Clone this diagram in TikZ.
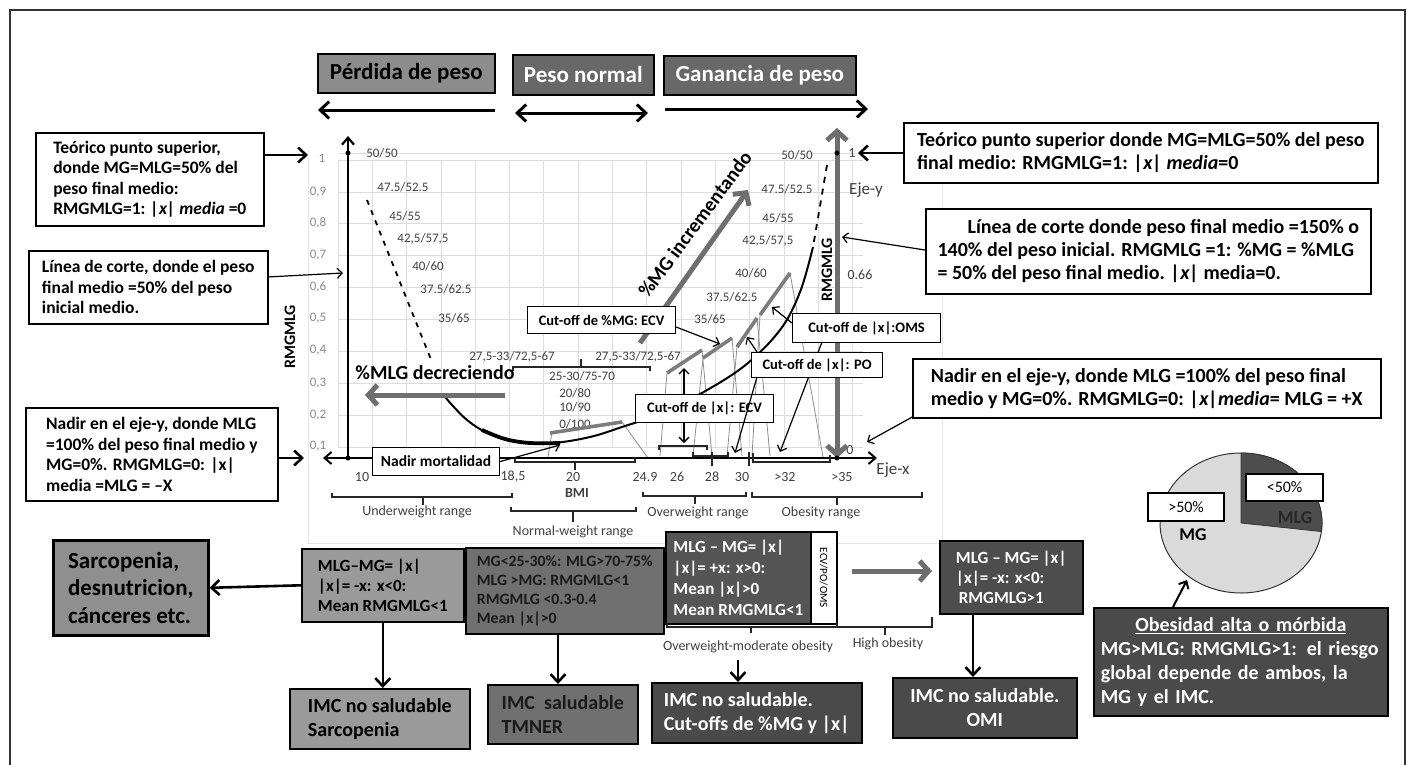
\documentclass[tikz,border=0pt]{standalone}
\usepackage{fontspec}
\setmainfont{Carlito}
\usetikzlibrary{arrows.meta}
\newcommand\myfs[2]{\fontsize{#1}{#2}\selectfont}
\definecolor{gridc}{HTML}{DCDCDC}
\definecolor{labc}{HTML}{404040}
\definecolor{tickc}{HTML}{8A8A8A}
\definecolor{arrg}{HTML}{6E6E6E}
\definecolor{sawg}{HTML}{7C7C7C}
\definecolor{thing}{HTML}{8E8E8E}
\definecolor{fA}{HTML}{8C8C8C}
\definecolor{fB}{HTML}{686868}
\definecolor{fC}{HTML}{9A9A9A}
\definecolor{fD}{HTML}{8F8F8F}
\definecolor{fE}{HTML}{707070}
\definecolor{fF}{HTML}{555555}
\definecolor{fG}{HTML}{4A4A4A}
\definecolor{pieL}{HTML}{DADADA}
\definecolor{pieD}{HTML}{4D4D4D}
\definecolor{frm}{HTML}{333333}
\definecolor{chb}{HTML}{E4E4E4}
\definecolor{txd}{HTML}{1A1A1A}
\tikzset{
  bx/.style={draw=black, line width=1.6pt, anchor=north west, inner xsep=6pt, inner ysep=1pt, align=left},
  lfont/.style={font=\myfs{17.5}{20.5}\bfseries},
  rfont/.style={font=\myfs{20}{23}\bfseries},
  cbox/.style={draw=black, line width=1.1pt, fill=white, anchor=north west, inner sep=1pt, align=center, font=\myfs{14.5}{16}\bfseries},
  topbox/.style={draw=black, line width=1.6pt, anchor=north west, inner sep=1pt, align=center, font=\myfs{23}{25}\bfseries},
  toparr/.style={line width=3pt, -{Straight Barb[length=9pt,width=17pt]}},
  topdbl/.style={line width=3pt, {Straight Barb[length=9pt,width=17pt]}-{Straight Barb[length=9pt,width=17pt]}},
  thickarr/.style={line width=2.6pt, -{Straight Barb[length=8pt,width=15pt]}},
  thinarr/.style={line width=1.2pt, -{Straight Barb[length=5pt,width=10pt]}},
  thindbl/.style={line width=1.4pt, {Straight Barb[length=5pt,width=10pt]}-{Straight Barb[length=5pt,width=10pt]}},
  garr/.style={line width=5pt, draw=arrg, -{Straight Barb[length=9pt,width=20pt]}},
  gdbl/.style={line width=5pt, draw=arrg, {Straight Barb[length=9pt,width=20pt]}-{Straight Barb[length=9pt,width=20pt]}},
  lab/.style={font=\myfs{13}{13}, text=labc, inner sep=0pt},
  tck/.style={font=\myfs{13}{13}, text=tickc, inner sep=0pt},
  xlab/.style={font=\myfs{14}{14}, text=labc, inner sep=0pt},
  rng/.style={font=\myfs{14}{14}, text=labc, inner sep=0pt},
  brk/.style={line width=1.1pt, draw=black!85},
  saw/.style={line width=3.6pt, draw=sawg},
  sawthin/.style={line width=0.8pt, draw=thing},
  dot/.style={circle, fill=black, inner sep=0pt, minimum size=5pt},
}
\begin{document}
\begin{tikzpicture}[x=1pt,y=-1pt]
\useasboundingbox (0,0) rectangle (1414,764);
% outer frame
\draw[line width=2pt, frm] (10,770) -- (10,10) -- (1405,10) -- (1405,770);
% chart border
\draw[chb, line width=0.8pt] (308,150) -- (308,543) -- (942,543) -- (942,150);
% grid
\foreach \i in {0,...,15} \draw[gridc, line width=0.8pt] ({338+34.3*\i},160) -- ({338+34.3*\i},447);
\foreach \j in {0,...,9} \draw[gridc, line width=0.8pt] (338,{160+31.9*\j}) -- (863,{160+31.9*\j});
\draw[gridc, line width=0.8pt] (338,153) -- (863,153);

% y tick labels
\node[tck] at (322,158) {1};
\node[tck] at (318,192) {0,9};
\node[tck] at (318,223) {0,8};
\node[tck] at (318,255) {0,7};
\node[tck] at (318,287) {0,6};
\node[tck] at (318,318) {0,5};
\node[tck] at (318,350) {0,4};
\node[tck] at (318,383) {0,3};
\node[tck] at (318,415) {0,2};
\node[tck] at (318,446) {0,1};

% ratio labels left
\node[lab] at (382,153) {50/50};
\node[lab] at (403,187) {47.5/52.5};
\node[lab] at (405,216) {45/55};
\node[lab] at (423,239) {42,5/57,5};
\node[lab] at (428,266) {40/60};
\node[lab] at (446,289) {37.5/62.5};
\node[lab] at (454,318) {35/65};
\node[lab] at (512,357) {27,5-33/72,5-67};
\node[lab] at (638,357) {27,5-33/72,5-67};
\node[lab] at (582,376) {25-30/75-70};
\node[lab] at (575,393) {20/80};
\node[lab] at (575,407) {10/90};
\node[lab] at (575,424) {0/100};
% ratio labels right
\node[lab] at (797,155) {50/50};
\node[lab] at (787,189) {47.5/52.5};
\node[lab] at (778,218) {45/55};
\node[lab] at (768,241) {42,5/57,5};
\node[lab] at (751,273) {40/60};
\node[lab] at (732,297) {37.5/62.5};
\node[lab] at (710,319) {35/65};
\node[xlab] at (860,275) {0.66};
\node[xlab] at (852,153) {1};
\node[font=\myfs{17}{17}, text=labc, inner sep=0pt] at (866,190) {Eje-y};
\node[xlab] at (850,450) {0};
\node[font=\myfs{17}{17}, text=labc, inner sep=0pt] at (893,470) {Eje-x};

% bracket above normal range
\draw[brk] (513,371) -- (513,367) -- (650,367) -- (650,371);
\draw[brk] (581,367) -- (581,359);

% dashed cut-off lines
\draw[line width=1.8pt, dash pattern=on 5pt off 6pt] (367,200) -- (432,362);
\draw[line width=1.8pt, dash pattern=on 6pt off 6pt] (827,165) -- (813,247);

% saw-tooth cut-off lines
\draw[sawthin] (552,432) -- (548,457);
\draw[sawthin] (622,422) -- (648,458);
\draw[sawthin] (660,456) -- (667,373);
\draw[sawthin] (702,350) -- (712,456);
\draw[sawthin] (693,456) -- (703,358);
\draw[sawthin] (732,338) -- (742,456);
\draw[sawthin] (727,456) -- (737,347);
\draw[sawthin] (757,318) -- (770,456);
\draw[sawthin] (752,456) -- (760,315);
\draw[sawthin] (790,273) -- (823,457);
\draw[saw] (550,433) -- (622,422);
\draw[saw] (667,373) -- (702,350);
\draw[saw] (703,358) -- (732,338);
\draw[saw] (737,347) -- (757,318);
\draw[saw] (760,315) -- (790,273);

% black curve
\draw[line width=2pt] plot[smooth, tension=0.6] coordinates {(445,397) (467,420) (492,435) (522,442) (553,443) (590,437) (622,427) (660,414) (693,398) (743,367) (780,330) (800,292) (813,247)};
\draw[line width=3.8pt] plot[smooth, tension=0.6] coordinates {(482,430) (505,439) (530,443) (560,443)};

% left axis
\coordinate (yb) at (348,458);
\coordinate (yt) at (348,136);
\draw[line width=2.2pt, -{Straight Barb[length=7pt,width=12pt]}] (yb) -- (yt);
% x axis
\coordinate (xl) at (323,458);
\coordinate (xr) at (877,458);
\draw[line width=2pt, {Straight Barb[length=7pt,width=12pt]}-{Straight Barb[length=7pt,width=12pt]}] (xl) -- (xr);
% right gray axis
\coordinate (gb) at (837,458);
\coordinate (gt) at (837,128);
\draw[gdbl] (gb) -- (gt);
\node[dot] at (348,153) {};
\node[dot] at (348,458) {};
\node[dot] at (837,153) {};
\node[dot] at (837,458) {};

% axis ticks and brackets near x-axis
\draw[brk] (659,450) -- (659,446) -- (707,446) -- (707,450);
\draw[brk] (693,452) -- (693,456) -- (728,456) -- (728,452);
\draw[brk] (753,453) -- (753,462) -- (830,462) -- (830,455);
\draw[brk] (712,452) -- (712,466);
\draw[brk] (749,452) -- (749,466);
\draw[brk] (515,457) -- (515,462) -- (635,462) -- (635,457);
\draw[brk] (575,462) -- (575,470);

% x labels
\node[xlab] at (362,477) {10};
\node[xlab] at (513,477) {18,5};
\node[xlab] at (573,477) {20};
\node[xlab] at (645,477) {24.9};
\node[xlab] at (677,477) {26};
\node[xlab] at (712,477) {28};
\node[xlab] at (742,477) {30};
\node[xlab] at (785,477) {>32};
\node[xlab] at (842,477) {>35};
\node[font=\myfs{14}{14}\bfseries, text=labc, inner sep=0pt] at (577,493) {BMI};

% axis titles
\node[rotate=90, font=\myfs{16}{16}\bfseries, inner sep=0pt] at (290,337) {RMGMLG};
\node[rotate=90, font=\myfs{16}{16}\bfseries, inner sep=0pt] at (827,270) {RMGMLG};

% big gray arrows and texts
\node[font=\myfs{20}{20}\bfseries, inner sep=0pt] at (435,373) {\%MLG decreciendo};
\coordinate (dA) at (505,395);
\coordinate (dB) at (365,395);
\draw[garr] (dA) -- (dB);
\node[rotate=53.5, font=\myfs{20}{20}\bfseries, inner sep=0pt] at (695,224) {\%MG incrementando};
\coordinate (iA) at (640,343);
\coordinate (iB) at (748,190);
\draw[garr] (iA) -- (iB);

% thin arrows in chart (drawn before boxes)
\coordinate (cA) at (684,368);
\coordinate (cB) at (684,443);
\draw[thindbl] (cA) -- (cB);
\node[cbox, minimum width=148pt, minimum height=27pt] (C1) at (527,306) {Cut-off de \%MG: ECV};
\node[cbox, minimum width=138pt, minimum height=28pt] (C2) at (635,394) {Cut-off de |x|: ECV};
\coordinate (c3a) at (822,342);
\coordinate (c3b) at (780,452);
\draw[thinarr] (c3a) -- (c3b);
\node[cbox, minimum width=148pt, minimum height=29pt] (C3) at (792,313) {Cut-off de |x|:OMS};
\node[cbox, minimum width=131pt, minimum height=25pt] (C4) at (751,352) {Cut-off de |x|: PO};
\coordinate (c1e) at (720,344);
\draw[thinarr] (C1.east |- 0,327) -- (c1e);
\coordinate (c3e) at (772,307);
\draw[thinarr] (C3.west |- 0,323) -- (c3e);
\coordinate (c4e) at (735,453);
\draw[thinarr] (757,377) -- (c4e);
\coordinate (c4u) at (747,337);
\draw[thinarr] (C4.north west) ++(6,0) -- (c4u);

\node[cbox, font=\myfs{15.5}{16}\bfseries, minimum width=127pt, minimum height=28pt] (NM) at (372,447) {Nadir mortalidad};
\coordinate (nme) at (560,445);
\draw[thinarr] (NM.east) -- (nme);

% top boxes
\node[topbox, fill=fA, minimum width=177pt, minimum height=39pt] (P1) at (317,53) {Pérdida de peso};
\node[topbox, fill=fB, text=white, minimum width=141pt, minimum height=40pt] (P2) at (512,54) {Peso normal};
\node[topbox, fill=fB, text=white, minimum width=192pt, minimum height=39pt] (P3) at (663,55) {Ganancia de peso};
\coordinate (t1a) at (495,110); \coordinate (t1b) at (318,110);
\draw[toparr] (t1a) -- (t1b);
\coordinate (t2a) at (515,113); \coordinate (t2b) at (648,113);
\draw[topdbl] (t2a) -- (t2b);
\coordinate (t3a) at (665,109); \coordinate (t3b) at (868,109);
\draw[toparr] (t3a) -- (t3b);

% left annotation boxes
\node[bx, lfont, fill=white, minimum width=228pt, minimum height=93pt] (L1) at (35,132)
 {Teórico punto superior,\\ donde MG=MLG=50\% del\\ peso final medio:\\ RMGMLG=1: \textit{|x| media} =0};
\coordinate (l1e) at (308,155);
\draw[thickarr] (L1.east |- l1e) -- (l1e);
\node[bx, lfont, fill=white, minimum width=239pt, minimum height=73pt] (L2) at (28,250)
 {Línea de corte, donde el peso\\ final medio =50\% del peso\\ inicial medio.};
\coordinate (l2e) at (343,273);
\draw[thinarr] (267,277) -- (l2e);
\node[bx, lfont, fill=white, minimum width=252pt, minimum height=93pt] (L3) at (25,407)
 {Nadir en el eje-y, donde MLG\\ =100\% del peso final medio y\\ MG=0\%. RMGMLG=0: |x|\\ media =MLG = –X};
\coordinate (l3e) at (304,458);
\draw[thickarr] (L3.east |- l3e) -- (l3e);

% right annotation boxes
\node[bx, rfont, fill=white, minimum width=474pt, minimum height=60pt] (R1) at (903,122)
 {Teórico punto superior donde MG=MLG=50\% del peso\\ final medio: RMGMLG=1: \textit{|x| media}=0};
\coordinate (r1e) at (858,153);
\draw[thickarr] (R1.west |- r1e) -- (r1e);
\node[bx, rfont, fill=white, minimum width=445pt, minimum height=85pt] (R2) at (925,208)
 {\hspace*{30pt}Línea de corte donde peso final medio =150\% o\\ 140\% del peso inicial. RMGMLG =1: \%MG = \%MLG\\ = 50\% del peso final medio. \textit{|x|} media=0.};
\coordinate (r2e) at (842,237);
\draw[thinarr] (R2.west |- 0,250) -- (r2e);
\node[bx, rfont, fill=white, minimum width=468pt, minimum height=59pt] (R3) at (912,358)
 {Nadir en el eje-y, donde MLG =100\% del peso final\\ medio y MG=0\%. RMGMLG=0: \textit{|x|media}= MLG = +X};
\coordinate (r3e) at (867,442);
\draw[thinarr] (R3.south west) ++(1,-2) -- (r3e);

% range brackets
\draw[brk] (332,493) -- (332,497) -- (512,497) -- (512,493);
\draw[brk] (423,497) -- (423,505);
\node[rng] at (417,512) {Underweight range};
\draw[brk] (511,507) -- (511,511) -- (636,511) -- (636,507);
\draw[brk] (573,511) -- (573,522);
\node[rng] at (573,532) {Normal-weight range};
\draw[brk] (643,492) -- (643,496) -- (746,496) -- (746,492);
\draw[brk] (695,496) -- (695,504);
\node[rng] at (698,513) {Overweight range};
\draw[brk] (752,492) -- (752,497) -- (922,497) -- (922,492);
\draw[brk] (837,497) -- (837,505);
\node[rng] at (821,513) {Obesity range};

% bottom boxes
\node[bx, draw=black, line width=2.6pt, fill=fD, font=\myfs{23}{27.5}\bfseries, minimum width=155pt, minimum height=95pt] (B1) at (52,539)
 {Sarcopenia,\\ desnutricion,\\ cánceres etc.};
\node[bx, fill=fC, font=\myfs{17}{20}\bfseries, minimum width=162pt, minimum height=73pt] (B2) at (301,548)
 {MLG–MG= |x|\\ |x|= -x: x<0:\\ Mean RMGMLG<1};
\draw[thickarr] (B2.west) -- (B1.east);
\node[bx, fill=fC, font=\myfs{20}{24}\bfseries, minimum width=180pt, minimum height=60pt] (B3) at (289,688)
 {IMC no saludable\\ Sarcopenia};
\draw[thickarr] (B2.south) -- (B2.south |- B3.north);
\node[bx, fill=fE, text=txd, font=\myfs{15.8}{18.8}\bfseries, minimum width=198pt, minimum height=86pt] (B4) at (465,547)
 {MG<25-30\%: MLG>70-75\%\\ MLG >MG: RMGMLG<1\\ RMGMLG <0.3-0.4\\ Mean |x|>0};
\node[bx, fill=fE, text=txd, font=\myfs{20}{24}\bfseries, minimum width=150pt, minimum height=59pt] (B5) at (487,684)
 {IMC~~saludable\\ TMNER};
\coordinate (b4s) at (558,633);
\draw[thickarr] (b4s) -- (b4s |- B5.north);
\node[bx, fill=fF, text=white, font=\myfs{17}{21}\bfseries, minimum width=145pt, minimum height=92pt] (B6) at (665,531)
 {MLG – MG= |x|\\ |x|= +x: x>0:\\ Mean |x|>0\\ Mean RMGMLG<1};
\node[draw=black, line width=1.6pt, fill=white, anchor=north west, inner sep=0pt, minimum width=26pt, minimum height=92pt] (E1) at (810,531) {};
\node[rotate=-90, font=\myfs{11}{11}, inner sep=0pt] at (E1.center) {ECV/PO/OMS};
\draw[brk] (667,623) -- (667,627) -- (837,627) -- (837,623);
\draw[brk] (751,627) -- (751,633);
\node[rng] at (748,647) {Overweight-moderate obesity};
\draw[brk] (837,627) -- (932,627) -- (932,617);
\draw[brk] (885,627) -- (885,635);
\node[rng] at (888,644) {High obesity};
\node[bx, fill=fG, text=white, font=\myfs{20}{24}\bfseries, minimum width=210pt, minimum height=60pt] (B7) at (651,682)
 {IMC no saludable.\\ Cut-offs de \%MG y |x|};
\coordinate (b7n) at (738,660);
\draw[thickarr] (b7n) -- (b7n |- B7.north);
\coordinate (gA) at (852,571);
\coordinate (gB) at (932,571);
\draw[garr] (gA) -- (gB);
\node[bx, fill=pieD, text=white, font=\myfs{17}{20}\bfseries, minimum width=143pt, minimum height=73pt] (B8) at (939,540)
 {MLG – MG= |x|\\ |x|= -x: x<0:\\ \,RMGMLG>1};
\node[bx, fill=fG, text=white, align=center, font=\myfs{20}{24}\bfseries, minimum width=184pt, minimum height=60pt] (B9) at (892,677)
 {IMC no saludable.\\ OMI};
\coordinate (b8s) at (973,613);
\draw[thickarr] (b8s) -- (b8s |- B9.north);

% pie
\coordinate (pc) at (1241,523);
\filldraw[fill=pieL, draw=black!80, line width=1pt] (pc) ellipse [x radius=81, y radius=70];
\filldraw[fill=pieD, draw=black!80, line width=0.8pt] (pc) -- (1241,453) arc[start angle=-90, end angle=7, x radius=81, y radius=70] -- cycle;
\node[draw=black, line width=2.2pt, fill=white, anchor=north west, inner sep=2pt, font=\myfs{16}{16}, minimum width=77pt, minimum height=27pt] (PL1) at (1245,473) {<50\%};
\node[draw=black, line width=2.2pt, fill=white, anchor=north west, inner sep=2pt, font=\myfs{16}{16}, minimum width=76pt, minimum height=28pt] (PL2) at (1147,492) {>50\%};
\node[font=\myfs{18}{18}\bfseries, text=black!85, inner sep=0pt] (MLGt) at (1295,518) {MLG};
\node[font=\myfs{18}{18}\bfseries, inner sep=0pt] (MGt) at (1193,535) {MG};

\node[bx, fill=fG, text=white, font=\myfs{20}{24}\bfseries, text width=280pt, inner xsep=7pt, minimum width=294pt, minimum height=108pt] (B10) at (1093,607)
 {\makebox[280pt]{\underline{Obesidad alta o mórbida}}\\ MG>MLG: RMGMLG>1: el riesgo\\ global depende de ambos, la\\ MG y el IMC.};
\coordinate (pe) at (1187,580);
\draw[line width=2pt, -{Straight Barb[length=6pt,width=11pt]}] (B10.north west) ++(80,0) -- (pe);
\end{tikzpicture}
\end{document}
